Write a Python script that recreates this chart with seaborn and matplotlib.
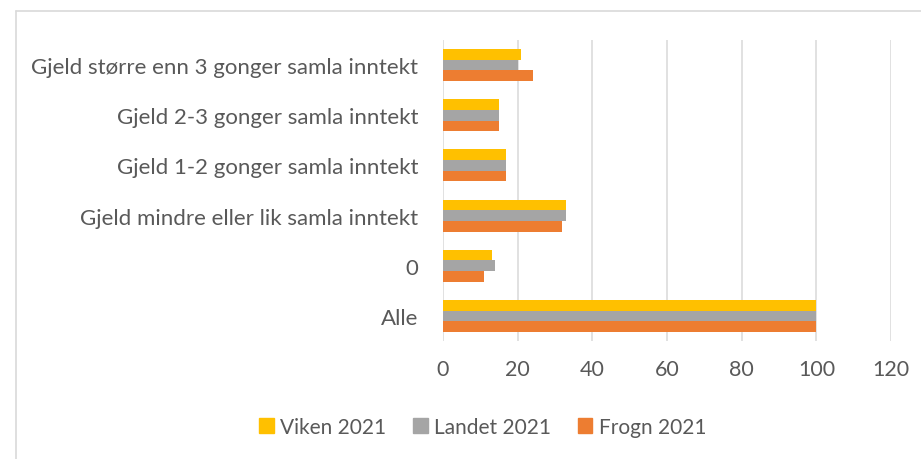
import matplotlib

matplotlib.use("Agg")

import matplotlib.pyplot as plt
import pandas as pd
import seaborn as sns
from matplotlib.lines import Line2D

categories = [
    "Gjeld større enn 3 gonger samla inntekt",
    "Gjeld 2-3 gonger samla inntekt",
    "Gjeld 1-2 gonger samla inntekt",
    "Gjeld mindre eller lik samla inntekt",
    "0",
    "Alle",
]
series = ["Viken 2021", "Landet 2021", "Frogn 2021"]
viken = [21, 15, 17, 33, 13, 100]
landet = [20, 15, 17, 33, 14, 100]
frogn = [24, 15, 17, 32, 11, 100]
x_ticks = [0, 20, 40, 60, 80, 100, 120]

colors = ["#FFC000", "#A5A5A5", "#ED7D31"]
text_color = "#595959"

rows = []
for name, values in zip(series, [viken, landet, frogn]):
    for cat, val in zip(categories, values):
        rows.append({"Kategori": cat, "Serie": name, "Verdi": val})
df = pd.DataFrame(rows)

sns.set_theme(style="white")
plt.rcParams["font.family"] = ["Lato", "DejaVu Sans"]

fig = plt.figure(figsize=(9.21, 4.6), dpi=100)
ax = fig.add_axes([0.481, 0.2565, 0.4865, 0.6544])

sns.barplot(
    data=df, y="Kategori", x="Verdi", hue="Serie",
    order=categories, hue_order=series, palette=colors, saturation=1,
    width=0.64, orient="h", ax=ax, legend=False,
    edgecolor="none", linewidth=0,
)

ax.set_xlim(0, 120)
ax.set_xticks(x_ticks)
ax.set_xlabel("")
ax.set_ylabel("")
ax.grid(axis="x", color="#D9D9D9", linewidth=1.1)
ax.set_axisbelow(True)
for spine in ax.spines.values():
    spine.set_visible(False)
ax.tick_params(axis="y", length=0, pad=18, labelsize=16, labelcolor=text_color)
ax.tick_params(axis="x", length=0, pad=13, labelsize=15.5, labelcolor=text_color)

handles = [plt.Rectangle((0, 0), 1, 1, color=c) for c in colors]
fig.legend(
    handles, series, loc="center", bbox_to_anchor=(0.524, 0.07), ncol=3,
    frameon=False, fontsize=15, labelcolor=text_color,
    handlelength=0.7, handleheight=0.7, handletextpad=0.3, columnspacing=1.3,
)

# chart frame (left and top edges visible)
fig.add_artist(Line2D([16 / 921, 16 / 921], [0, 1 - 12 / 460], transform=fig.transFigure,
                      color="#D9D9D9", linewidth=1.2))
fig.add_artist(Line2D([16 / 921, 1], [1 - 12 / 460, 1 - 12 / 460], transform=fig.transFigure,
                      color="#D9D9D9", linewidth=1.2))

fig.savefig("out.png", dpi=100)
plt.close(fig)
